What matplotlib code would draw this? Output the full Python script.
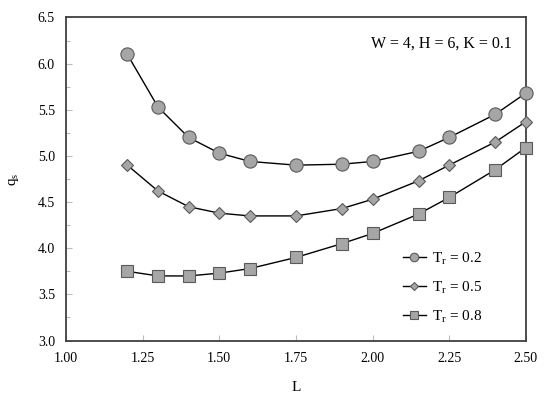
import numpy as np
import matplotlib.pyplot as plt
from matplotlib.ticker import MultipleLocator

# Data
L = [1.2, 1.3, 1.4, 1.5, 1.6, 1.75, 1.9, 2.0, 2.15, 2.25, 2.4, 2.5]
qs_tr02 = [6.10, 5.53, 5.20, 5.03, 4.94, 4.90, 4.91, 4.94, 5.05, 5.20, 5.45, 5.68]
qs_tr05 = [4.90, 4.62, 4.45, 4.38, 4.35, 4.35, 4.43, 4.53, 4.73, 4.90, 5.15, 5.37]
qs_tr08 = [3.75, 3.70, 3.70, 3.73, 3.78, 3.90, 4.05, 4.16, 4.37, 4.55, 4.85, 5.09]
labels = [r"T$_\mathregular{r}$ = 0.2", r"T$_\mathregular{r}$ = 0.5", r"T$_\mathregular{r}$ = 0.8"]

plt.rcParams["font.family"] = ["Liberation Serif", "DejaVu Serif"]
plt.rcParams["mathtext.fontset"] = "custom"
plt.rcParams["mathtext.rm"] = "Liberation Serif"

fig = plt.figure(figsize=(5.5, 3.96), dpi=100)
ax = fig.add_axes([0.12, 0.14, 0.836, 0.816])

face = "#a6a6a6"
edge = "#5a5a5a"
ax.plot(L, qs_tr02, color="black", lw=1.0, marker="o", ms=9.5,
        mfc=face, mec=edge, mew=0.8, label=labels[0], clip_on=False, zorder=3)
ax.plot(L, qs_tr05, color="black", lw=1.0, marker="D", ms=6.5,
        mfc=face, mec=edge, mew=0.8, label=labels[1], clip_on=False, zorder=3)
ax.plot(L, qs_tr08, color="black", lw=1.0, marker="s", ms=8,
        mfc=face, mec=edge, mew=0.8, label=labels[2], clip_on=False, zorder=3)

ax.set_xlim(1.0, 2.5)
ax.set_ylim(3.0, 6.5)
ax.xaxis.set_major_locator(MultipleLocator(0.25))
ax.yaxis.set_major_locator(MultipleLocator(0.5))
ax.yaxis.set_minor_locator(MultipleLocator(0.25))
ax.xaxis.set_major_formatter(plt.FormatStrFormatter("%.2f"))
ax.yaxis.set_major_formatter(plt.FormatStrFormatter("%.1f"))
ax.tick_params(axis="both", which="both", direction="in", color="#bbbbbb",
               labelsize=10, width=0.8)
ax.tick_params(axis="both", which="major", length=4, pad=8)
ax.tick_params(axis="y", which="minor", length=3)

for s in ax.spines.values():
    s.set_color("#404040")
    s.set_linewidth(1.3)

ax.set_xlabel("L", fontsize=11, labelpad=12)
ax.set_ylabel(r"q$_\mathregular{s}$", fontsize=11, labelpad=12)

ax.text(0.97, 0.945, "W = 4, H = 6, K = 0.1", transform=ax.transAxes,
        ha="right", va="top", fontsize=11.5)

ax.legend(loc="lower right", bbox_to_anchor=(0.935, 0.005), frameon=False,
          fontsize=11, handlelength=1.5, markerscale=0.65, labelspacing=0.8,
          handletextpad=0.4)

plt.savefig("out.png", dpi=100)
plt.close()
